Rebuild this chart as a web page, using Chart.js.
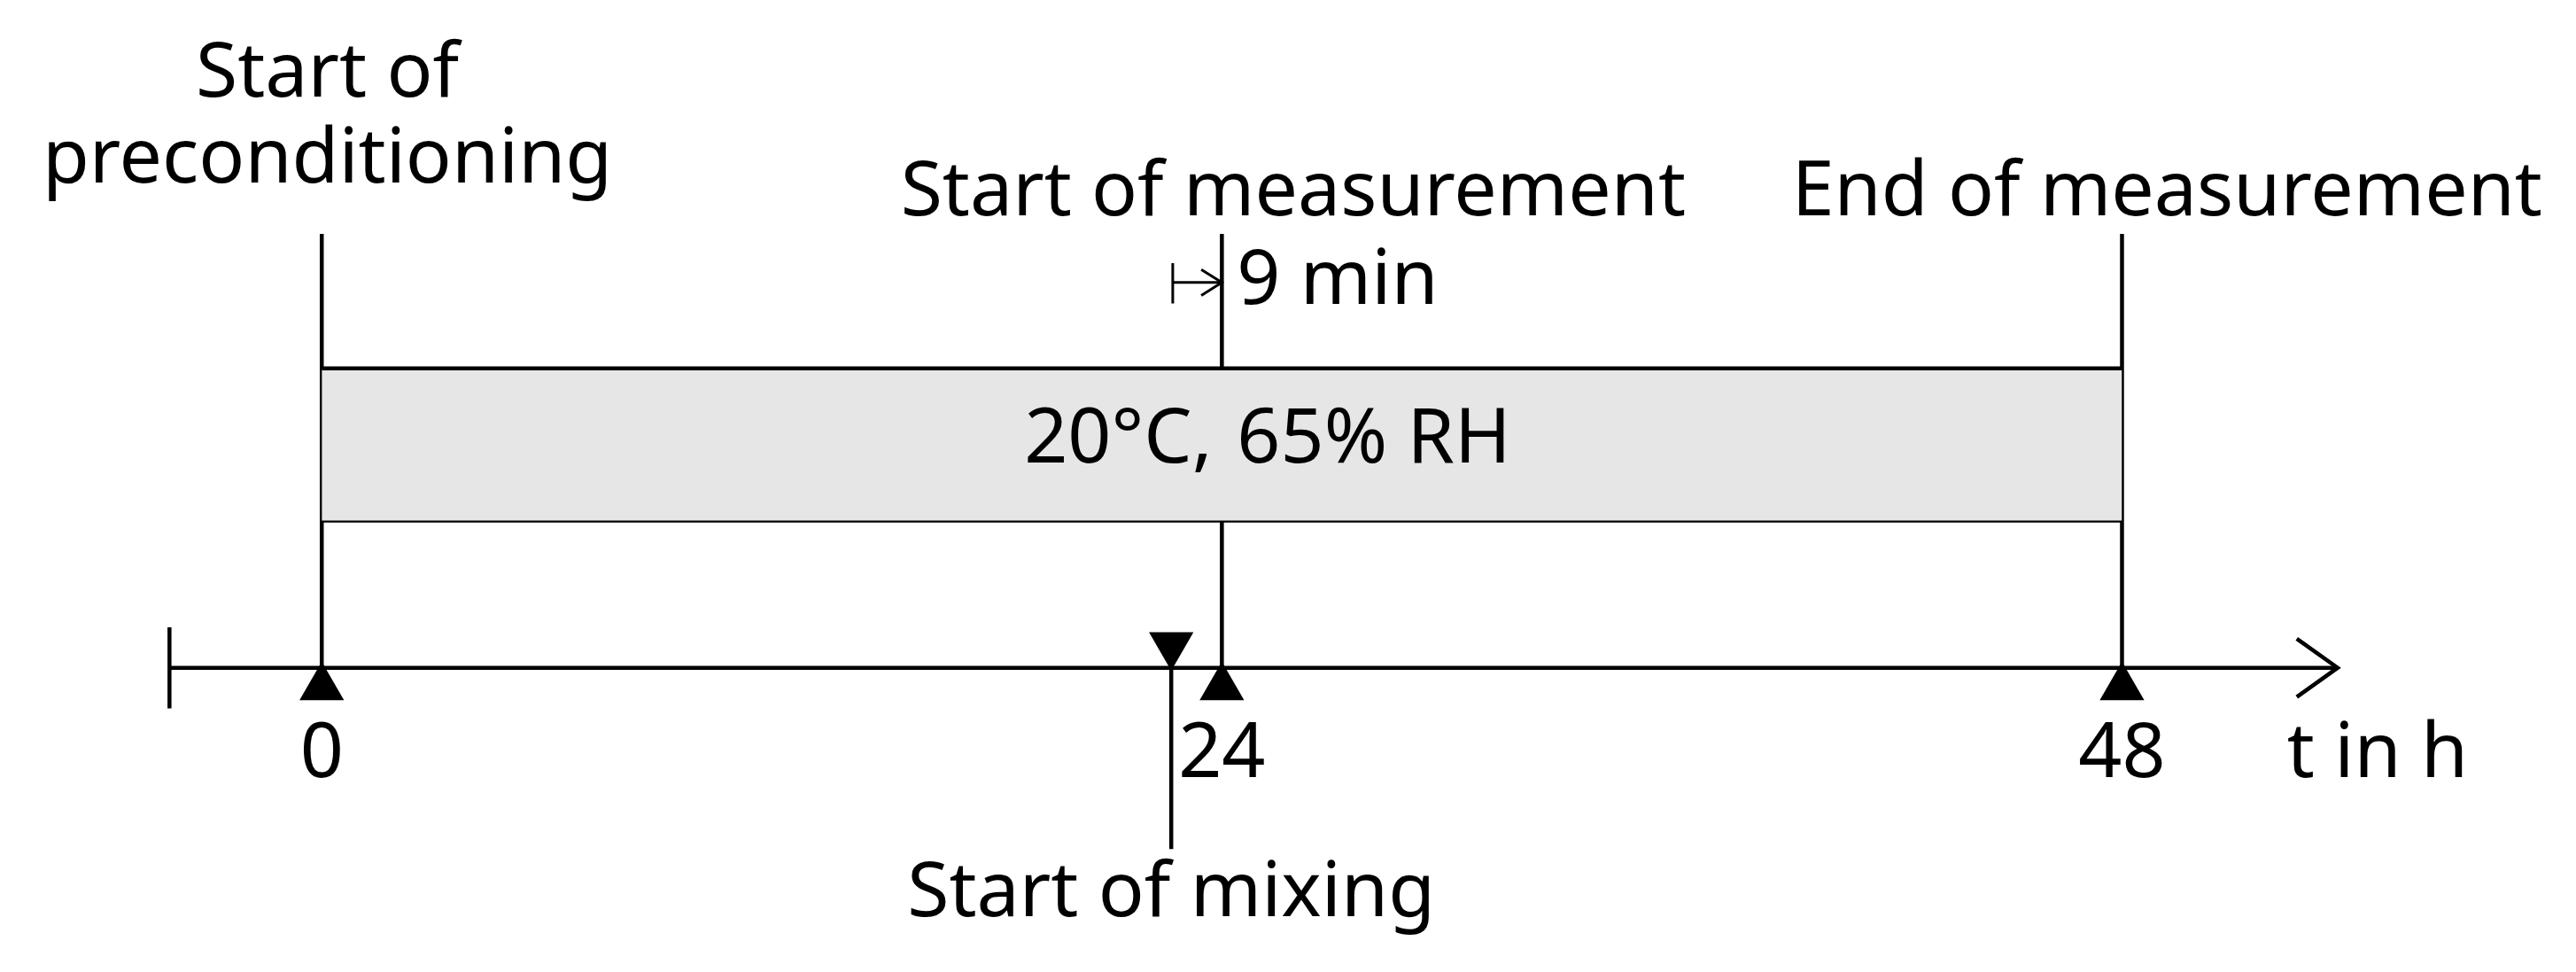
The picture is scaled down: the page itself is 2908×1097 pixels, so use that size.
<!DOCTYPE html>
<html><head><meta charset="utf-8">
<script src="https://cdn.jsdelivr.net/npm/chart.js@4"></script>
<style>html,body{margin:0;padding:0;background:#fff}#w{width:2908px;height:1097px}</style>
</head><body><div id="w"><canvas id="c"></canvas></div>
<script>
// times in hours; vertical positions in diagram units (0 top .. 591 bottom)
const milestones = [0, 24, 48];
const milestoneLabels = ["0", "24", "48"];
const mixingTime = 22.65;
const axisStart = -4.06, axisEnd = 53.75, arrowBack = 52.66;
const axisY = 408;
const boxTop = 223, boxBottom = 317;
const lineTop = 140;
const texts = [
  {t:0.15, y:42, s:"Start of", a:"center"},
  {t:0.15, y:95, s:"preconditioning", a:"center"},
  {t:25.9, y:115, s:"Start of measurement", a:"center"},
  {t:49.2, y:115, s:"End of measurement", a:"center"},
  {t:24.4, y:170, s:"9 min", a:"left"},
  {t:23.75, y:268, s:"20°C,", a:"right"},
  {t:24.4, y:268, s:"65% RH", a:"left"},
  {t:52.4, y:462, s:"t in h", a:"left"},
  {t:22.65, y:548, s:"Start of mixing", a:"center"}
];
const K='#000', LW=4.5;
function seg(pts, extra){return Object.assign({type:'line',data:pts.map(p=>({x:p[0],y:p[1]})),borderColor:K,borderWidth:LW,pointRadius:0,fill:false,tension:0},extra||{});}
const datasets=[
  seg([[0,boxTop],[48,boxTop]],{fill:'+1',backgroundColor:'#e6e6e6'}),
  seg([[0,boxBottom],[48,boxBottom]]),
  ...milestones.map(m=>seg([[m,lineTop],[m,axisY]])),
  seg([[axisStart,axisY],[axisEnd,axisY]]),
  seg([[axisStart,383],[axisStart,433]]),
  seg([[arrowBack,390],[axisEnd,axisY],[arrowBack,426]]),
  seg([[mixingTime,395],[mixingTime,520]]),
  seg([[22.69,158],[22.69,183]],{borderWidth:3}),
  seg([[22.69,170],[24,170]],{borderWidth:3}),
  seg([[23.45,162],[24,170],[23.45,178]],{borderWidth:3}),
  {type:'scatter',data:milestones.map(m=>({x:m,y:420})),pointStyle:'triangle',pointRadius:29,backgroundColor:K,borderColor:K,borderWidth:0},
  {type:'scatter',data:[{x:mixingTime,y:394}],pointStyle:'triangle',rotation:180,pointRadius:29,backgroundColor:K,borderColor:K,borderWidth:0}
];
const txt={id:'txt',afterDatasetsDraw(ch){const c=ch.ctx,x=ch.scales.x,y=ch.scales.y;c.save();c.fillStyle=K;c.font='86px "Noto Sans"';c.textBaseline='middle';
  const all=texts.concat(milestones.map((m,i)=>({t:m,y:462,s:milestoneLabels[i],a:'center'})));
  all.forEach(o=>{c.textAlign=o.a;c.fillText(o.s,x.getPixelForValue(o.t),y.getPixelForValue(o.y));});c.restore();}};
new Chart(document.getElementById('c'),{type:'line',data:{datasets},plugins:[txt],
 options:{responsive:true,maintainAspectRatio:false,animation:false,layout:{padding:0},
  plugins:{legend:{display:false},tooltip:{enabled:false},filler:{propagate:false}},
  scales:{x:{type:'linear',min:-7.894,max:59.42,display:false},y:{type:'linear',min:11.4,max:580,reverse:true,display:false}}}});
</script></body></html>
